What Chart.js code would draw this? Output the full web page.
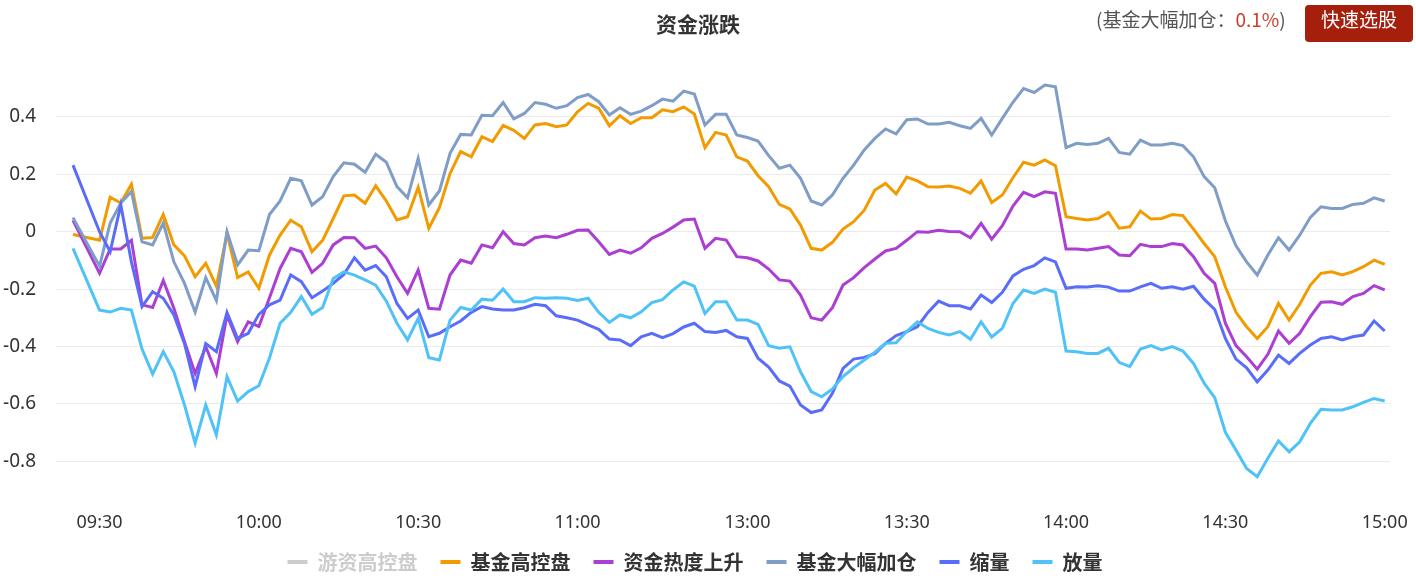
<!DOCTYPE html>
<html>
<head>
<meta charset="utf-8">
<script src="https://cdn.jsdelivr.net/npm/chart.js@4.4.0/dist/chart.umd.min.js"></script>
<style>
  html, body { margin: 0; padding: 0; background: #fff; }
  #wrap { position: relative; width: 1416px; height: 587px; overflow: hidden; }
  #chart { position: absolute; left: 0; top: 0; }
  #title { position: absolute; left: 598px; width: 200px; top: 8px; line-height: 26px; text-align: center;
           font: bold 21px 'Noto Sans CJK SC', sans-serif; color: #333; }
  #note { position: absolute; left: 1096px; top: 5px; line-height: 26px;
          font: 19px 'Noto Sans CJK SC', sans-serif; color: #555; white-space: nowrap; }
  #note span { color: #c9432f; }
  #btn { position: absolute; left: 1305px; top: 5px; width: 108px; height: 37px; line-height: 37px;
         background: #a51f0c; color: #fff; border-radius: 4px; text-align: center;
         font: 19px 'Noto Sans CJK SC', sans-serif; }
</style>
</head>
<body>
<div id="wrap">
  <canvas id="chart" width="1416" height="587"></canvas>
  <div id="title">资金涨跌</div>
  <div id="note">(基金大幅加仓：<span>0.1%</span>)</div>
  <div id="btn">快速选股</div>
</div>
<script>
// 09:25 集合竞价, then one point every 2 minutes 09:30-11:30 / 13:00-15:00
const times = ['09:25'];
function fmt(m) {
    const h = Math.floor(m / 60), mm = m % 60;
    return (h < 10 ? '0' : '') + h + ':' + (mm < 10 ? '0' : '') + mm;
}
for (let m = 9 * 60 + 30; m <= 11 * 60 + 30; m += 2) times.push(fmt(m));
for (let m = 13 * 60; m <= 15 * 60; m += 2) times.push(fmt(m));

const tickLabels = ['09:30', '10:00', '10:30', '11:00', '13:00', '13:30', '14:00', '14:30', '15:00'];
const yTicks = [-0.8, -0.6, -0.4, -0.2, 0, 0.2, 0.4];

// 游资高控盘 (hidden in the legend, no line drawn)
const hotMoney = [];
// 基金高控盘
const fundHold = [
    -0.01, -0.03, 0.12, 0.10, 0.165, -0.023, -0.02, 0.06, -0.046, -0.084, -0.157, -0.11, -0.19, -0.006, -0.16, -0.14, -0.197, -0.081, -0.012, 0.04, 0.017, -0.07, -0.03,
    0.046, 0.125, 0.128, 0.099, 0.16, 0.107, 0.041, 0.052, 0.155, 0.012, 0.084, 0.203, 0.279, 0.261, 0.331, 0.314, 0.37, 0.353, 0.325, 0.372, 0.377, 0.366, 0.372, 0.418, 0.447,
    0.43, 0.369, 0.404, 0.377, 0.397, 0.397, 0.425, 0.418, 0.435, 0.41, 0.293, 0.346, 0.337, 0.261, 0.246, 0.195, 0.157, 0.095, 0.079, 0.023, -0.058, -0.064, -0.037, 0.009, 0.035, 0.075,
    0.145, 0.168, 0.132, 0.19, 0.177, 0.157, 0.156, 0.159, 0.151, 0.134, 0.177, 0.102, 0.128, 0.188, 0.242, 0.232, 0.25, 0.23, 0.052, 0.046, 0.041, 0.046, 0.067, 0.012, 0.017,
    0.072, 0.044, 0.046, 0.06, 0.056, 0.009, -0.041, -0.087, -0.192, -0.281, -0.331, -0.372, -0.331, -0.25, -0.308, -0.253, -0.186, -0.145, -0.14, -0.151, -0.139, -0.122, -0.099, -0.114
];
// 资金热度上升
const heatUp = [
    0.04, -0.145, -0.06, -0.06, -0.03, -0.255, -0.264, -0.17, -0.267, -0.383, -0.494, -0.4, -0.494, -0.29, -0.383, -0.314, -0.33, -0.23, -0.128, -0.058, -0.07, -0.142, -0.11,
    -0.046, -0.02, -0.021, -0.058, -0.05, -0.091, -0.157, -0.215, -0.134, -0.267, -0.27, -0.151, -0.099, -0.11, -0.046, -0.056, 0.0, -0.041, -0.046, -0.021, -0.015, -0.021, -0.009, 0.005, 0.006,
    -0.035, -0.079, -0.064, -0.075, -0.056, -0.023, -0.006, 0.016, 0.041, 0.044, -0.058, -0.023, -0.029, -0.087, -0.091, -0.102, -0.13, -0.168, -0.172, -0.221, -0.3, -0.308, -0.265, -0.186, -0.16, -0.125,
    -0.095, -0.067, -0.058, -0.03, 0.0, -0.002, 0.005, 0.001, 0.0, -0.021, 0.029, -0.026, 0.021, 0.089, 0.137, 0.122, 0.139, 0.134, -0.06, -0.06, -0.064, -0.058, -0.052, -0.081, -0.084,
    -0.044, -0.052, -0.052, -0.041, -0.046, -0.087, -0.145, -0.18, -0.319, -0.397, -0.436, -0.479, -0.427, -0.346, -0.389, -0.354, -0.296, -0.246, -0.244, -0.253, -0.226, -0.215, -0.188, -0.203
];
// 基金大幅加仓
const fundAdd = [
    0.049, -0.12, 0.03, 0.10, 0.14, -0.035, -0.046, 0.03, -0.105, -0.18, -0.28, -0.16, -0.24, 0.0, -0.116, -0.064, -0.066, 0.06, 0.107, 0.186, 0.177, 0.093, 0.122,
    0.192, 0.24, 0.235, 0.207, 0.27, 0.242, 0.157, 0.118, 0.255, 0.093, 0.142, 0.273, 0.339, 0.337, 0.406, 0.404, 0.45, 0.393, 0.412, 0.45, 0.444, 0.43, 0.439, 0.467, 0.478,
    0.453, 0.407, 0.432, 0.409, 0.42, 0.439, 0.462, 0.455, 0.49, 0.48, 0.372, 0.409, 0.409, 0.337, 0.328, 0.316, 0.265, 0.221, 0.232, 0.186, 0.107, 0.093, 0.128, 0.186, 0.232, 0.285,
    0.325, 0.358, 0.341, 0.39, 0.393, 0.375, 0.375, 0.381, 0.369, 0.36, 0.395, 0.337, 0.395, 0.451, 0.499, 0.485, 0.511, 0.505, 0.293, 0.308, 0.304, 0.308, 0.325, 0.276, 0.27,
    0.319, 0.302, 0.302, 0.308, 0.3, 0.261, 0.192, 0.153, 0.038, -0.049, -0.105, -0.151, -0.081, -0.021, -0.064, -0.012, 0.05, 0.087, 0.081, 0.081, 0.095, 0.099, 0.118, 0.107
];
// 缩量
const shrinkVol = [
    0.232, 0.0, -0.07, 0.093, -0.105, -0.261, -0.209, -0.232, -0.29, -0.39, -0.54, -0.39, -0.418, -0.281, -0.372, -0.354, -0.288, -0.255, -0.238, -0.151, -0.174, -0.23, -0.207,
    -0.18, -0.149, -0.091, -0.134, -0.118, -0.157, -0.25, -0.302, -0.273, -0.366, -0.354, -0.331, -0.311, -0.281, -0.261, -0.269, -0.273, -0.273, -0.265, -0.253, -0.258, -0.293, -0.3, -0.308, -0.325,
    -0.34, -0.374, -0.377, -0.397, -0.366, -0.354, -0.369, -0.355, -0.332, -0.319, -0.348, -0.351, -0.344, -0.366, -0.372, -0.441, -0.472, -0.52, -0.538, -0.604, -0.63, -0.621, -0.563, -0.476, -0.444, -0.438,
    -0.425, -0.389, -0.362, -0.348, -0.331, -0.281, -0.242, -0.258, -0.258, -0.269, -0.221, -0.247, -0.211, -0.154, -0.131, -0.118, -0.091, -0.105, -0.197, -0.192, -0.193, -0.188, -0.193, -0.207, -0.207,
    -0.192, -0.18, -0.197, -0.192, -0.2, -0.19, -0.235, -0.271, -0.372, -0.444, -0.474, -0.523, -0.482, -0.43, -0.459, -0.424, -0.395, -0.372, -0.366, -0.377, -0.366, -0.36, -0.311, -0.346
];
// 放量
const expandVol = [
    -0.058, -0.273, -0.28, -0.267, -0.273, -0.409, -0.496, -0.418, -0.488, -0.604, -0.737, -0.604, -0.708, -0.505, -0.59, -0.557, -0.537, -0.44, -0.319, -0.281, -0.226, -0.288, -0.264,
    -0.163, -0.14, -0.151, -0.168, -0.186, -0.242, -0.319, -0.377, -0.302, -0.439, -0.447, -0.308, -0.264, -0.273, -0.235, -0.239, -0.2, -0.244, -0.244, -0.23, -0.232, -0.23, -0.232, -0.24, -0.232,
    -0.281, -0.316, -0.29, -0.3, -0.279, -0.247, -0.237, -0.203, -0.175, -0.19, -0.285, -0.244, -0.244, -0.308, -0.308, -0.323, -0.397, -0.406, -0.401, -0.488, -0.557, -0.575, -0.548, -0.505, -0.474, -0.447,
    -0.42, -0.389, -0.387, -0.348, -0.314, -0.337, -0.351, -0.36, -0.348, -0.375, -0.314, -0.367, -0.337, -0.25, -0.203, -0.215, -0.2, -0.211, -0.416, -0.418, -0.424, -0.424, -0.406, -0.455, -0.47,
    -0.409, -0.397, -0.412, -0.4, -0.416, -0.459, -0.528, -0.578, -0.699, -0.761, -0.825, -0.854, -0.789, -0.729, -0.767, -0.732, -0.668, -0.619, -0.621, -0.621, -0.61, -0.595, -0.581, -0.59
];

// position on the time axis: minutes since 09:25, lunch break squeezed to 2 slots
function slot(t) {
    const p = t.split(':');
    const m = (+p[0]) * 60 + (+p[1]) - (9 * 60 + 25);
    return m > 125 ? m - 88 : m;
}
function points(vals) {
    return vals.map((v, i) => ({ x: slot(times[i]), y: v }));
}

const series = [
    { label: '游资高控盘', data: hotMoney, color: '#c23531', hidden: true },
    { label: '基金高控盘', data: fundHold, color: '#f29b00' },
    { label: '资金热度上升', data: heatUp, color: '#ab3ed3' },
    { label: '基金大幅加仓', data: fundAdd, color: '#7f9dc6' },
    { label: '缩量', data: shrinkVol, color: '#5a6cfa' },
    { label: '放量', data: expandVol, color: '#4fc2f8' }
];

// legend sits a little higher than chart.js would put it
const legendNudge = {
    id: 'legendNudge',
    afterLayout(chart) {
        const lg = chart.legend;
        const h = lg.height;
        lg.top = 529;
        lg.bottom = lg.top + h;
    }
};

const ctx = document.getElementById('chart');
new Chart(ctx, {
    type: 'line',
    data: {
        datasets: series.map((s, i) => ({
            label: s.label,
            data: points(s.data),
            borderColor: s.color,
            backgroundColor: s.color,
            borderWidth: 3,
            pointRadius: 0,
            tension: 0,
            fill: false,
            hidden: !!s.hidden,
            order: series.length - i
        }))
    },
    plugins: [legendNudge],
    options: {
        responsive: false,
        animation: false,
        devicePixelRatio: 1,
        layout: { padding: { top: 59.5, right: 26, bottom: 0, left: 0 } },
        scales: {
            x: {
                type: 'linear',
                min: -3.2,
                max: 248,
                afterBuildTicks: s => { s.ticks = tickLabels.map(t => ({ value: slot(t) })); },
                afterFit: s => { s.height = 44; s.paddingLeft = 0; s.paddingRight = 0; },
                grid: { display: false, drawTicks: false },
                border: { display: false },
                ticks: {
                    padding: 22,
                    maxRotation: 0,
                    autoSkip: false,
                    color: '#333',
                    font: { family: "'Noto Sans', sans-serif", size: 18 },
                    callback: v => tickLabels.find(t => slot(t) === v) || ''
                }
            },
            y: {
                min: -0.9,
                max: 0.6,
                afterBuildTicks: s => { s.ticks = yTicks.map(v => ({ value: v })); },
                afterFit: s => { s.width = 56; },
                grid: { color: '#ebebeb', lineWidth: 1, drawTicks: false },
                border: { display: false },
                ticks: {
                    padding: 20,
                    color: '#333',
                    font: { family: "'Noto Sans', sans-serif", size: 19 },
                    callback: v => v === 0 ? '0' : v.toFixed(1)
                }
            }
        },
        plugins: {
            title: { display: false },
            tooltip: { enabled: false },
            legend: {
                position: 'bottom',
                labels: {
                    boxWidth: 20,
                    boxHeight: 4,
                    padding: 23,
                    font: { family: "'Noto Sans CJK SC', sans-serif", size: 20, weight: 'bold' },
                    generateLabels: chart => chart.data.datasets.map((ds, i) => ({
                        text: ds.label,
                        fillStyle: ds.hidden ? '#cccccc' : ds.borderColor,
                        strokeStyle: ds.hidden ? '#cccccc' : ds.borderColor,
                        lineWidth: 0,
                        fontColor: ds.hidden ? '#cccccc' : '#333',
                        hidden: false,
                        datasetIndex: i
                    }))
                }
            }
        }
    }
});
</script>
</body>
</html>
